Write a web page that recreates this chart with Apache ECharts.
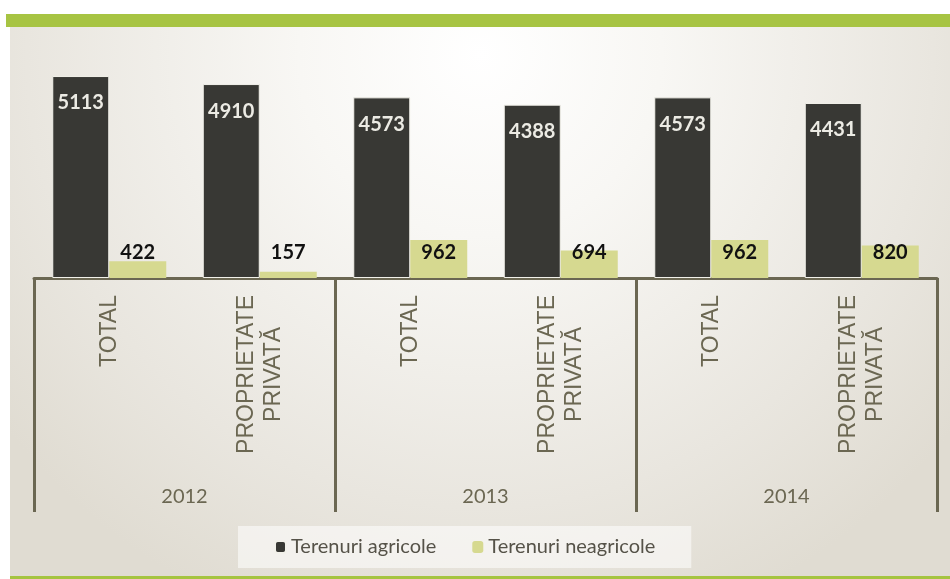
<!DOCTYPE html>
<html lang="ro">
<head>
	<meta charset="UTF-8">
	<title>Terenuri</title>
</head>
<style>
	html, body { margin: 0; padding: 0; background: #ffffff; }
	#main { width: 950px; height: 579px; }
</style>
<body>
	<div id="main"></div>
	<script src="https://cdn.jsdelivr.net/npm/echarts@6/dist/echarts.min.js"></script>
	<script>
		// date
		var categorii = ['TOTAL', 'PROPRIETATE\nPRIVATĂ', 'TOTAL', 'PROPRIETATE\nPRIVATĂ', 'TOTAL', 'PROPRIETATE\nPRIVATĂ'];
		var ani = ['2012', '2013', '2014'];
		var agricole = [5113, 4910, 4573, 4388, 4573, 4431];
		var neagricole = [422, 157, 962, 694, 962, 820];

		var axisColor = '#6b6752';
		var myChart = echarts.init(document.getElementById('main'));

		var option = {
			backgroundColor: '#ffffff',
			graphic: [
				{
					type: 'rect', z: -10, silent: true,
					shape: { x: 10, y: 27, width: 940, height: 549 },
					style: {
						fill: new echarts.graphic.RadialGradient(0.5, 0.05, 1.1, [
							{ offset: 0, color: '#ffffff' },
							{ offset: 0.3, color: '#f8f7f4' },
							{ offset: 0.75, color: '#e9e6df' },
							{ offset: 1, color: '#e0dcd2' }
						])
					}
				},
				{ type: 'rect', z: 10, silent: true, shape: { x: 6, y: 14, width: 944, height: 13 }, style: { fill: '#a7c443' } },
				{ type: 'rect', z: 10, silent: true, shape: { x: 10, y: 576, width: 940, height: 3 }, style: { fill: '#a5c440' } }
			],
			legend: {
				left: 238,
				top: 526,
				padding: [11, 36],
				backgroundColor: 'rgba(255,255,255,0.55)',
				itemWidth: 11,
				itemHeight: 12,
				itemGap: 36,
				textStyle: { fontFamily: 'Lato', fontSize: 20, color: '#555248' },
				data: ['Terenuri agricole', 'Terenuri neagricole']
			},
			grid: {
				left: 34,
				right: 13,
				top: 41,
				bottom: 301,
				outerBoundsMode: 'none'
			},
			xAxis: [
				{
					type: 'category',
					data: categorii,
					axisLine: { show: true, lineStyle: { color: axisColor, width: 3 } },
					axisTick: { show: false },
					axisLabel: {
						rotate: 90,
						interval: 0,
						margin: 17,
						formatter: function (v) {
							return v.split('\n').map(function (s) { return '{a|' + s + '}'; }).join('\n');
						},
						rich: {
							a: { fontFamily: 'Liberation Sans', fontSize: 23, lineHeight: 27, color: axisColor, align: 'center' }
						}
					}
				},
				{
					type: 'category',
					data: ani,
					position: 'bottom',
					axisLine: { show: false },
					axisTick: { show: true, length: 234, lineStyle: { color: axisColor, width: 3 } },
					axisLabel: {
						interval: 0,
						margin: 209,
						fontFamily: 'Lato',
						fontSize: 20,
						color: axisColor
					}
				}
			],
			yAxis: {
				type: 'value',
				min: 0,
				max: 6000,
				show: false,
				splitLine: { show: false }
			},
			series: [
				{
					name: 'Terenuri agricole',
					type: 'bar',
					data: agricole,
					barWidth: 57,
					barGap: '0%',
					itemStyle: { color: '#383834', borderColor: '#f2f1ea', borderWidth: 1 },
					label: {
						show: true,
						position: 'insideTop',
						distance: 17,
						fontFamily: 'Lato',
						fontSize: 20,
						fontWeight: 'bold',
						color: '#ecebe4'
					}
				},
				{
					name: 'Terenuri neagricole',
					type: 'bar',
					data: neagricole,
					barWidth: 57,
					barGap: '0%',
					itemStyle: { color: '#d6d990' },
					label: {
						show: true,
						position: 'insideBottom',
						distance: 15,
						fontFamily: 'Lato',
						fontSize: 20,
						fontWeight: 'bold',
						color: '#111111'
					}
				}
			]
		};
		myChart.setOption(option);
	</script>
</body>
</html>
